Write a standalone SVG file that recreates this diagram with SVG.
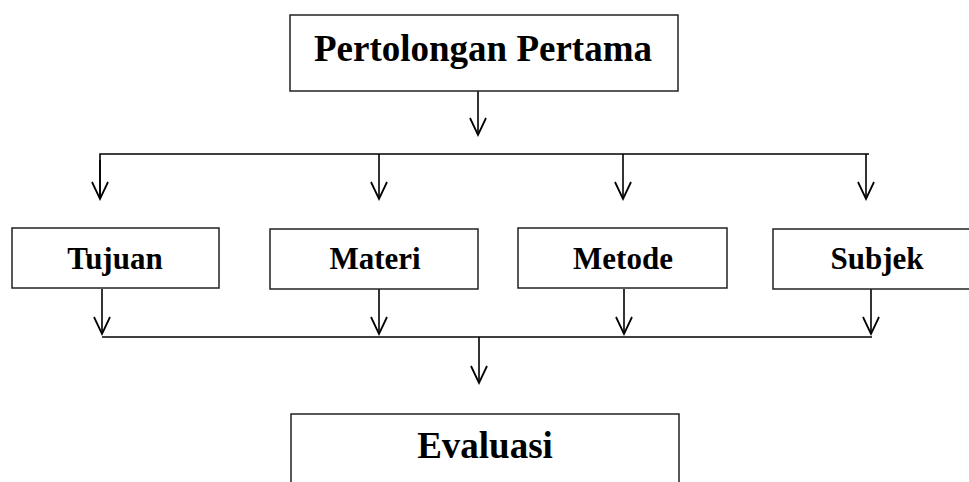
<svg xmlns="http://www.w3.org/2000/svg" width="969" height="482" viewBox="0 0 969 482">
<style>
.box{fill:#fff;stroke:#222;stroke-width:1.5}
.t{font-family:"Liberation Serif","Times New Roman",serif;font-weight:bold;text-anchor:middle;fill:#000}
.big{font-size:37px}
.mid{font-size:31px}
.ln{fill:none;stroke:#000;stroke-width:1.6}
</style>
<defs>
<marker id="ah" markerUnits="userSpaceOnUse" markerWidth="20" markerHeight="20" refX="0" refY="0" orient="auto" overflow="visible">
<path d="M-17,-8 L0,0 L-17,8" fill="none" stroke="#000" stroke-width="1.8"/>
</marker>
</defs>
<rect width="969" height="482" fill="#fff"/>
<g id="connectors">
<line class="ln" x1="478" y1="91" x2="478" y2="135" marker-end="url(#ah)"/>
<polyline class="ln" points="100,199 100,154 869,154"/>
<line class="ln" x1="100" y1="160" x2="100" y2="199" marker-end="url(#ah)"/>
<line class="ln" x1="379" y1="154" x2="379" y2="199" marker-end="url(#ah)"/>
<line class="ln" x1="623" y1="154" x2="623" y2="199" marker-end="url(#ah)"/>
<line class="ln" x1="866" y1="154" x2="866" y2="199" marker-end="url(#ah)"/>
<line class="ln" x1="102" y1="289" x2="102" y2="334" marker-end="url(#ah)"/>
<line class="ln" x1="379" y1="289" x2="379" y2="334" marker-end="url(#ah)"/>
<line class="ln" x1="624" y1="289" x2="624" y2="334" marker-end="url(#ah)"/>
<line class="ln" x1="871" y1="289" x2="871" y2="334" marker-end="url(#ah)"/>
<line class="ln" x1="102" y1="337" x2="872" y2="337"/>
<line class="ln" x1="479" y1="337" x2="479" y2="383" marker-end="url(#ah)"/>
</g>
<g id="node-pertolongan">
<rect class="box" x="290" y="15" width="388" height="76"/>
<text class="t big" x="483" y="61">Pertolongan Pertama</text>
</g>
<g id="node-tujuan">
<rect class="box" x="12" y="228" width="207" height="60"/>
<text class="t mid" x="115" y="269">Tujuan</text>
</g>
<g id="node-materi">
<rect class="box" x="270" y="229" width="208" height="60"/>
<text class="t mid" x="375" y="269">Materi</text>
</g>
<g id="node-metode">
<rect class="box" x="518" y="228" width="209" height="60"/>
<text class="t mid" x="623" y="269">Metode</text>
</g>
<g id="node-subjek">
<rect class="box" x="773" y="229" width="210" height="60"/>
<text class="t mid" x="877" y="269">Subjek</text>
</g>
<g id="node-evaluasi">
<rect class="box" x="291" y="414" width="388" height="90"/>
<text class="t big" x="485" y="458">Evaluasi</text>
</g>
</svg>
